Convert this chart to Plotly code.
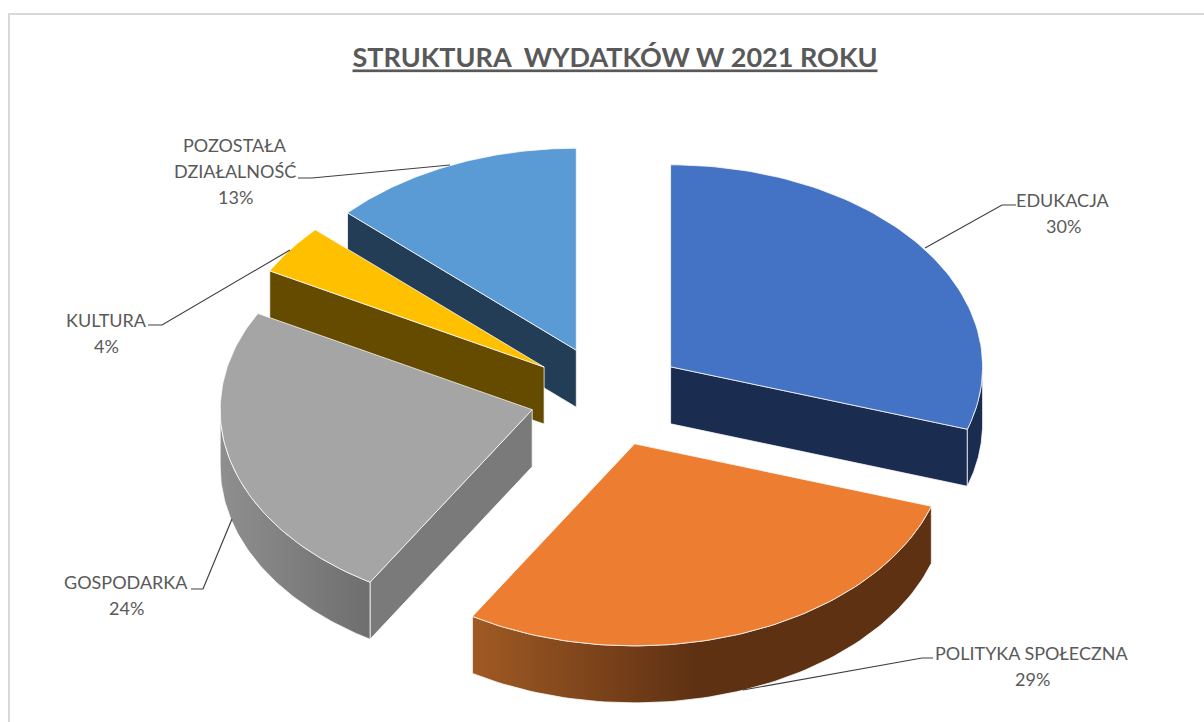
import math
import plotly.graph_objects as go

# Data
categories = ["EDUKACJA", "POLITYKA SPOŁECZNA", "GOSPODARKA", "KULTURA", "POZOSTAŁA<br>DZIAŁALNOŚĆ"]
values = [30.0, 28.7, 24.2, 4.0, 13.1]

# Style / layout
top_colors = ["#4472C4", "#ED7D31", "#A5A5A5", "#FFC000", "#5B9BD5"]
wall_colors = ["#1A2C50", "#5F3113", "#7A7A7A", "#654B00", "#223D55"]
rim_scales = [
    [[0, "#1A2C50"], [1, "#1A2C50"]],
    [[0, "#A05A24"], [0.48, "#5F3113"], [1, "#5F3113"]],
    [[0, "#8F8F8F"], [1, "#6E6E6E"]],
    [[0, "#654B00"], [1, "#654B00"]],
    [[0, "#223D55"], [1, "#223D55"]],
]
draw_order = [4, 3, 2, 0, 1]
CX, CY, RX, RY, DEPTH, EXPLODE = 607.5, 396.5, 312, 202, 57, 0.25
label_pos = [(1063, 213), (1032, 666), (126, 595), (106, 333), (235, 171)]
leaders = [
    ([1016, 1002, 925], [205, 205, 248]),
    ([933, 922, 743], [658, 658, 690]),
    ([191, 203, 232], [589, 589, 519]),
    ([148, 162, 290], [325, 325, 250]),
    ([298, 312, 450], [178, 178, 165]),
]
TEXT = "#595959"
FONT = "Lato, Carlito, Calibri, sans-serif"
LINE_STEP = 26


def pt(apex, t, r=1.0):
    return apex[0] + r * RX * math.sin(t), apex[1] - r * RY * math.cos(t)


def arc(apex, t0, t1, n=80, dy=0):
    out = []
    for i in range(n + 1):
        x, y = pt(apex, t0 + (t1 - t0) * i / n)
        out.append((x, y + dy))
    return out


def poly(points, fill, name, gradient=None, line="rgba(255,255,255,0.75)"):
    xs = [p[0] for p in points] + [points[0][0]]
    ys = [p[1] for p in points] + [points[0][1]]
    kw = dict(fillcolor=fill) if gradient is None else dict(
        fillgradient=dict(type="horizontal", colorscale=gradient))
    return go.Scatter(x=xs, y=ys, mode="lines", fill="toself", name=name, hoverinfo="skip",
                      showlegend=False, line=dict(color=line, width=1), **kw)


total = sum(values)
angles = [0]
for v in values:
    angles.append(angles[-1] + v / total * 2 * math.pi)

fig = go.Figure()
for i in draw_order:
    t0, t1 = angles[i], angles[i + 1]
    mid = (t0 + t1) / 2
    apex = (CX + EXPLODE * RX * math.sin(mid), CY - EXPLODE * RY * math.cos(mid))
    inner = pt(apex, mid, 0.5)
    # radial walls that face the viewer
    for t in (t0, t1):
        rx, ry = pt(apex, t)
        dx, dy = rx - apex[0], ry - apex[1]
        if abs(dx) < 1:
            continue
        if inner[1] < apex[1] + dy / dx * (inner[0] - apex[0]):
            fig.add_trace(poly([apex, (rx, ry), (rx, ry + DEPTH), (apex[0], apex[1] + DEPTH)],
                               wall_colors[i], categories[i]))
    # outer rim, lower half of the ellipse only
    a, b = max(t0, math.pi / 2), min(t1, 3 * math.pi / 2)
    if b > a:
        top = arc(apex, a, b)
        low = arc(apex, b, a, dy=DEPTH)
        fig.add_trace(poly(top + low, None, categories[i], gradient=rim_scales[i]))
    # top face
    fig.add_trace(poly([apex] + arc(apex, t0, t1), top_colors[i], categories[i]))

for xs, ys in leaders:
    fig.add_trace(go.Scatter(x=xs, y=ys, mode="lines", hoverinfo="skip", showlegend=False,
                             line=dict(color="#404040", width=1.2)))

for cat, val, (x, y) in zip(categories, values, label_pos):
    lines = cat.split("<br>") + [f"{round(val)}%"]
    start = y - LINE_STEP * (len(lines) - 1) / 2
    for k, txt in enumerate(lines):
        fig.add_annotation(x=x, y=start + k * LINE_STEP, text=txt, showarrow=False, align="center",
                           xanchor="center", yanchor="middle",
                           font=dict(family=FONT, size=18, color=TEXT))

fig.add_shape(type="rect", x0=9, x1=1300, y0=14, y1=800,
              line=dict(color="#D9D9D9", width=2), fillcolor="rgba(0,0,0,0)", layer="below")

fig.update_layout(
    width=1204, height=722, margin=dict(l=0, r=0, t=0, b=0),
    paper_bgcolor="white", plot_bgcolor="white", showlegend=False,
    title=dict(text="<b>STRUKTURA  WYDATKÓW W 2021 ROKU</b>", x=615 / 1204, xanchor="center",
               y=1 - 58 / 722, yanchor="middle",
               font=dict(family=FONT, size=27, color=TEXT, lineposition="under")),
    xaxis=dict(range=[0, 1204], visible=False, fixedrange=True),
    yaxis=dict(range=[722, 0], visible=False, fixedrange=True),
)
fig.write_html("out.html", post_script="document.body.style.margin='0';document.body.style.overflow='hidden';",
               config=dict(displayModeBar=False))
